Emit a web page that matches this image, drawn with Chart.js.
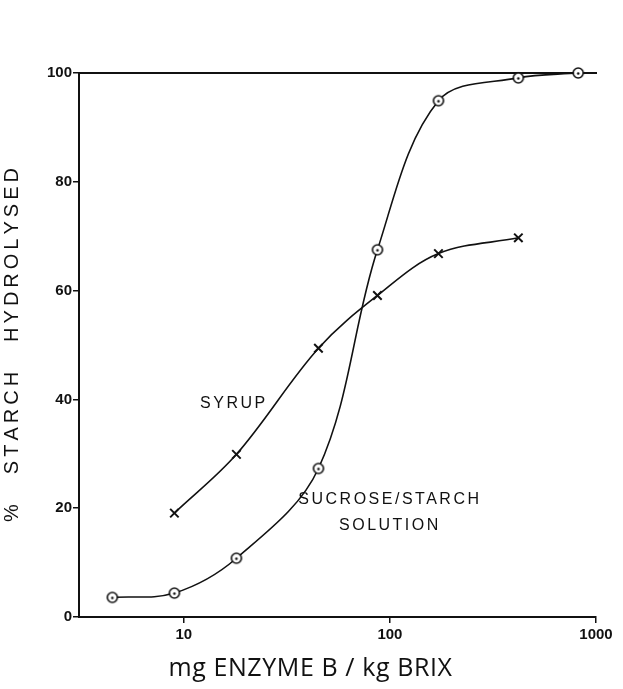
<!DOCTYPE html>
<html>
<head>
<meta charset="utf-8">
<script src="https://cdn.jsdelivr.net/npm/chart.js@4"></script>
<style>
  html, body { margin: 0; padding: 0; background: #fff; }
  #wrap { width: 623px; height: 689px; }
</style>
</head>
<body>
<div id="wrap"><canvas id="myChart" width="623" height="689"></canvas></div>
<script>
// values
const sucroseDose = [4.5, 9, 18, 45, 87, 172, 420, 820];
const sucroseValues = [3.6, 4.4, 10.8, 27.3, 67.5, 94.9, 99.1, 100];
const syrupDose = [9, 18, 45, 87, 172, 420];
const syrupValues = [19.1, 29.9, 49.4, 59.1, 66.8, 69.7];
const xTicks = [10, 100, 1000];
const yTicks = [0, 20, 40, 60, 80, 100];
const curveLabels = [
  { text: 'SYRUP', x: 17.5, y: 39.3 },
  { text: 'SUCROSE/STARCH', x: 100, y: 21.5 },
  { text: 'SOLUTION', x: 100, y: 16.8 }
];
const xTitle = 'mg ENZYME B / kg BRIX';
const yTitle = '% STARCH HYDROLYSED';

// open circle with a dot in the middle
const circleDot = document.createElement('canvas');
circleDot.width = 14;
circleDot.height = 14;
(function() {
  const c = circleDot.getContext('2d');
  c.strokeStyle = '#111';
  c.lineWidth = 1.6;
  c.fillStyle = '#fff';
  c.beginPath();
  c.arc(7, 7, 5, 0, Math.PI * 2);
  c.fill();
  c.stroke();
  c.fillStyle = '#111';
  c.beginPath();
  c.arc(7, 7.5, 1.3, 0, Math.PI * 2);
  c.fill();
})();

const spaced = (s) => s.split(' ').map(w => w.split('').join('\u2009')).join('\u2003\u2002');

const textBits = {
  id: 'textBits',
  afterDatasetsDraw(chart) {
    const ctx = chart.ctx;
    const xs = chart.scales.x, ys = chart.scales.y;
    const area = chart.chartArea;
    ctx.save();
    ctx.fillStyle = '#111';
    ctx.textAlign = 'center';
    ctx.textBaseline = 'middle';
    ctx.font = '16px "Liberation Sans", Arial, sans-serif';
    if ('letterSpacing' in ctx) ctx.letterSpacing = '2.5px';
    curveLabels.forEach(l => {
      ctx.fillText(l.text, xs.getPixelForValue(l.x), ys.getPixelForValue(l.y));
    });
    if ('letterSpacing' in ctx) ctx.letterSpacing = '0.6px';
    ctx.font = '25px "Open Sans", sans-serif';
    ctx.fillText(xTitle, (area.left + area.right) / 2 - 27, area.bottom + 52);
    ctx.restore();
  }
};

const ctx = document.getElementById('myChart');
new Chart(ctx, {
  type: 'line',
  data: {
    datasets: [{
      label: 'Sucrose/starch solution',
      data: sucroseDose.map((d, i) => ({ x: d, y: sucroseValues[i] })),
      borderColor: '#111',
      borderWidth: 1.6,
      pointStyle: circleDot,
      tension: 0.35,
      clip: false
    }, {
      label: 'Syrup',
      data: syrupDose.map((d, i) => ({ x: d, y: syrupValues[i] })),
      borderColor: '#111',
      borderWidth: 1.6,
      pointStyle: 'crossRot',
      pointRadius: 6,
      pointBorderWidth: 2,
      pointBorderColor: '#111',
      tension: 0.35,
      clip: false
    }]
  },
  options: {
    responsive: false,
    animation: false,
    layout: { padding: { top: 73, right: 27, bottom: 6, left: 0 } },
    plugins: {
      legend: { display: false },
      tooltip: { enabled: false }
    },
    scales: {
      x: {
        type: 'logarithmic',
        min: 3.1,
        max: 1000,
        afterBuildTicks: (s) => { s.ticks = xTicks.map(v => ({ value: v })); },
        afterFit: (s) => { s.height = 66; },
        grid: { display: true, drawOnChartArea: false, drawTicks: true, tickLength: 6, color: '#111', lineWidth: 1.5 },
        border: { display: true, color: '#111', width: 2 },
        ticks: {
          color: '#111',
          font: { family: '"Liberation Sans", Arial, sans-serif', size: 15, weight: 'bold' },
          padding: 3,
          maxRotation: 0,
          callback: (v) => String(v)
        }
      },
      x2: {
        type: 'logarithmic',
        position: 'top',
        min: 3.1,
        max: 1000,
        afterFit: (s) => { s.height = 0; },
        grid: { display: false },
        ticks: { display: false },
        border: { display: true, color: '#111', width: 2 }
      },
      y: {
        min: 0,
        max: 100,
        afterBuildTicks: (s) => { s.ticks = yTicks.map(v => ({ value: v })); },
        afterFit: (s) => { s.width = 79; },
        grid: { display: true, drawOnChartArea: false, drawTicks: true, tickLength: 6, color: '#111', lineWidth: 1.5 },
        border: { display: true, color: '#111', width: 2 },
        ticks: {
          color: '#111',
          font: { family: '"Liberation Sans", Arial, sans-serif', size: 15, weight: 'bold' },
          padding: 1
        },
        title: {
          display: true,
          text: spaced(yTitle),
          color: '#111',
          font: { family: '"Liberation Sans", Arial, sans-serif', size: 20 },
          padding: { top: 0, bottom: 6 }
        }
      }
    }
  },
  plugins: [textBits]
});
</script>
</body>
</html>
